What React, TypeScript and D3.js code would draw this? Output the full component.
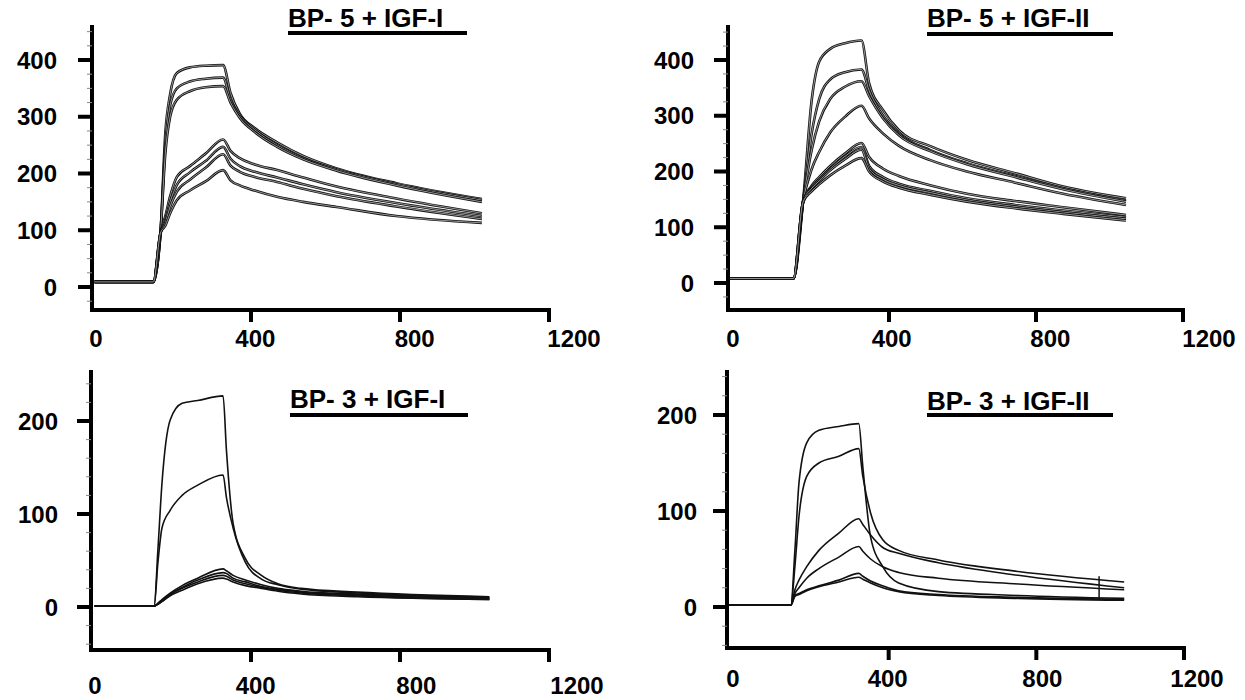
import React from 'react'
import * as d3 from 'd3'

// sensorgrams, time in s, response in RU
const xTickValues = [0, 400, 800, 1200]

// BP-5 + IGF-I
const tBp5Igf1 = [-20, 138, 157, 170, 183, 201, 236, 278, 325, 345, 370, 410, 470, 540, 630, 790, 1020]
const bp5Igf1 = [
  [9, 9, 95, 271, 340, 377, 387, 390, 391, 342, 305, 280, 255, 231, 209, 183, 155],
  [9, 9, 95, 250, 320, 350, 362, 367, 369, 330, 302, 277, 250, 227, 207, 181, 153],
  [9, 9, 95, 235, 300, 330, 345, 352, 354, 325, 298, 273, 247, 225, 205, 179, 150],
  [9, 9, 95, 125, 160, 194, 213, 235, 260, 240, 227, 216, 206, 193, 177, 156, 130],
  [9, 9, 95, 118, 150, 180, 202, 222, 247, 226, 213, 203, 193, 181, 167, 148, 125],
  [9, 9, 95, 113, 142, 168, 189, 210, 234, 214, 203, 194, 185, 173, 160, 142, 120],
  [9, 9, 95, 108, 130, 153, 170, 186, 206, 188, 179, 170, 159, 150, 141, 125, 113],
]

// BP-5 + IGF-II
const tBp5Igf2 = [-35, 140, 166, 190, 210, 240, 280, 325, 346, 384, 427, 514, 612, 743, 874, 1045]
const bp5Igf2 = [
  [8, 8, 145, 330, 397, 420, 430, 435, 358, 310, 274, 245, 221, 197, 173, 152],
  [8, 8, 145, 270, 330, 365, 378, 383, 345, 300, 268, 238, 215, 192, 170, 148],
  [8, 8, 145, 240, 290, 330, 352, 362, 335, 295, 265, 236, 213, 190, 168, 146],
  [8, 8, 145, 205, 235, 270, 298, 318, 295, 268, 246, 220, 200, 180, 160, 140],
  [8, 8, 145, 175, 190, 210, 232, 251, 226, 205, 192, 175, 160, 147, 136, 122],
  [8, 8, 145, 172, 186, 205, 227, 244, 210, 190, 178, 165, 152, 140, 130, 118],
  [8, 8, 145, 170, 183, 202, 222, 239, 205, 186, 175, 162, 149, 137, 127, 115],
  [8, 8, 145, 165, 177, 193, 210, 224, 200, 182, 171, 158, 146, 134, 124, 112],
]

// BP-3 + IGF-I
const tBp3Igf1 = [-20, 140, 150, 161, 183, 215, 257, 325, 334, 352, 385, 428, 472, 535, 685, 1040]
const bp3Igf1 = [
  [1, 1, 61, 133, 201, 219, 222, 227, 169, 90, 52, 34, 25, 20, 16, 11],
  [1, 1, 47, 85, 104, 120, 131, 142, 118, 85, 48, 30, 24, 19, 15, 10],
  [1, 1, 4, 8, 15, 23, 31, 41, 39, 34, 29, 24, 20, 17, 14, 10],
  [1, 1, 4, 7, 14, 21, 29, 37, 36, 31, 27, 22, 19, 16, 13, 9],
  [1, 1, 3, 6, 13, 20, 27, 34, 33, 29, 25, 21, 18, 15, 12, 8],
  [1, 1, 3, 6, 12, 18, 25, 31, 30, 27, 23, 20, 17, 14, 11, 8],
]

// BP-3 + IGF-II
const tBp3Igf2 = [-35, 135, 146, 157, 178, 211, 265, 319, 330, 351, 384, 427, 535, 751, 1038]
const bp3Igf2 = [
  [2, 2, 59, 129, 171, 184, 188, 191, 146, 73, 42, 25, 16, 12, 9],
  [2, 2, 42, 94, 136, 150, 157, 165, 136, 98, 70, 59, 49, 37, 26],
  [2, 2, 18, 28, 42, 59, 77, 92, 86, 75, 62, 56, 46, 33, 20],
  [2, 2, 14, 20, 30, 40, 52, 63, 58, 50, 42, 36, 30, 24, 18],
  [2, 2, 12, 14, 18, 22, 28, 35, 32, 27, 22, 17, 13, 10, 8],
  [2, 2, 11, 13, 17, 21, 26, 31, 29, 25, 20, 16, 12, 9, 7],
]
// little vertical spike near the end of the BP-3 + IGF-II run
const bp3Igf2Mark = { t: 970, from: 8, to: 32 }

const FONT = '"Liberation Sans", Arial, Helvetica, sans-serif'

const panels = [
  {
    title: 'BP- 5 + IGF-I', times: tBp5Igf1, series: bp5Igf1, tube: true,
    axisX: 92, axisTop: 25, axisBottom: 310, xRange: [102, 549], labelRange: [96, 574], labelY: 347,
    yTicks: [0, 100, 200, 300, 400], yRange: [287, 60], minorStep: 25, labelRight: 57,
    titleX: 288, titleY: 27, ulWidth: 179, ulY: 33,
  },
  {
    title: 'BP- 5 + IGF-II', times: tBp5Igf2, series: bp5Igf2, tube: true,
    axisX: 728, axisTop: 25, axisBottom: 310, xRange: [742, 1183], labelRange: [733, 1209], labelY: 347,
    yTicks: [0, 100, 200, 300, 400], yRange: [283, 60], minorStep: 25, labelRight: 694,
    titleX: 927, titleY: 27, ulWidth: 186, ulY: 34,
  },
  {
    title: 'BP- 3 + IGF-I', times: tBp3Igf1, series: bp3Igf1, tube: false,
    axisX: 91, axisTop: 370, axisBottom: 650, xRange: [102, 549], labelRange: [95, 577], labelY: 694,
    yTicks: [0, 100, 200], yRange: [607, 421], minorStep: 20, labelRight: 58,
    titleX: 290, titleY: 408, ulWidth: 178, ulY: 415,
  },
  {
    title: 'BP- 3 + IGF-II', times: tBp3Igf2, series: bp3Igf2, tube: false, mark: bp3Igf2Mark,
    axisX: 727, axisTop: 370, axisBottom: 648, xRange: [741, 1184], labelRange: [733, 1197], labelY: 687,
    yTicks: [0, 100, 200], yRange: [607, 415], minorStep: 20, labelRight: 697,
    titleX: 927, titleY: 410, ulWidth: 186, ulY: 415,
  },
]

const Panel = ({ p }: { p: any }) => {
  const x = d3.scaleLinear().domain([0, 1200]).range(p.xRange)
  const y = d3.scaleLinear().domain([0, p.yTicks[p.yTicks.length - 1]]).range(p.yRange)
  const labelX = d3.scaleLinear().domain([0, 1200]).range(p.labelRange)
  const line = d3
    .line<[number, number]>()
    .x((d) => x(d[0]))
    .y((d) => y(d[1]))
    .curve(d3.curveMonotoneX)

  const vLow = y.invert(p.axisBottom)
  const vHigh = y.invert(p.axisTop)
  const minors = d3
    .range(Math.ceil(vLow / p.minorStep) * p.minorStep, vHigh, p.minorStep)
    .filter((v) => !p.yTicks.includes(v))

  const xEnd = x(1200)

  return (
    <g>
      {p.series.map((vals: number[], i: number) => {
        const d = line(p.times.map((t: number, j: number) => [t, vals[j]]))
        return p.tube ? (
          <g key={i}>
            <path d={d} fill="none" stroke="#111" strokeWidth={2.6} />
            <path d={d} fill="none" stroke="#fff" strokeWidth={0.7} strokeOpacity={0.8} />
          </g>
        ) : (
          <path key={i} d={d} fill="none" stroke="#111" strokeWidth={1.6} />
        )
      })}
      {p.mark && (
        <line x1={x(p.mark.t)} x2={x(p.mark.t)} y1={y(p.mark.from)} y2={y(p.mark.to)} stroke="#111" strokeWidth={1.5} />
      )}

      {/* axes */}
      <line x1={p.axisX} x2={p.axisX} y1={p.axisTop} y2={p.axisBottom + 2} stroke="#000" strokeWidth={4} />
      <line x1={p.axisX - 2} x2={xEnd + 2} y1={p.axisBottom} y2={p.axisBottom} stroke="#000" strokeWidth={4} />
      {minors.map((v: number) => (
        <line key={v} x1={p.axisX - 5} x2={p.axisX} y1={y(v)} y2={y(v)} stroke="#888" strokeWidth={1} />
      ))}
      {p.yTicks.map((v: number) => (
        <g key={v}>
          <line x1={p.axisX - 14} x2={p.axisX} y1={y(v)} y2={y(v)} stroke="#000" strokeWidth={4} />
          <text
            x={p.labelRight}
            y={y(v)}
            dy="0.36em"
            textAnchor="end"
            fontFamily={FONT}
            fontWeight="bold"
            fontSize={24}
          >
            {v}
          </text>
        </g>
      ))}
      {xTickValues.filter((t) => t > 0).map((t) => (
        <line key={t} x1={x(t)} x2={x(t)} y1={p.axisBottom} y2={p.axisBottom + 12} stroke="#000" strokeWidth={4} />
      ))}
      {xTickValues.map((t) => (
        <text
          key={t}
          x={labelX(t)}
          y={p.labelY}
          textAnchor="middle"
          fontFamily={FONT}
          fontWeight="bold"
          fontSize={24}
        >
          {t}
        </text>
      ))}

      {/* title */}
      <text x={p.titleX} y={p.titleY} fontFamily={FONT} fontWeight="bold" fontSize={26}>
        {p.title}
      </text>
      <line x1={p.titleX} x2={p.titleX + p.ulWidth} y1={p.ulY} y2={p.ulY} stroke="#000" strokeWidth={4} />
    </g>
  )
}

const App = () => (
  <svg
    width={1245}
    height={700}
    style={{ position: 'absolute', left: 0, top: 0, background: '#fff' }}
  >
    <rect width={1245} height={700} fill="#fff" />
    {panels.map((p) => (
      <Panel key={p.title} p={p} />
    ))}
  </svg>
)

export default App
